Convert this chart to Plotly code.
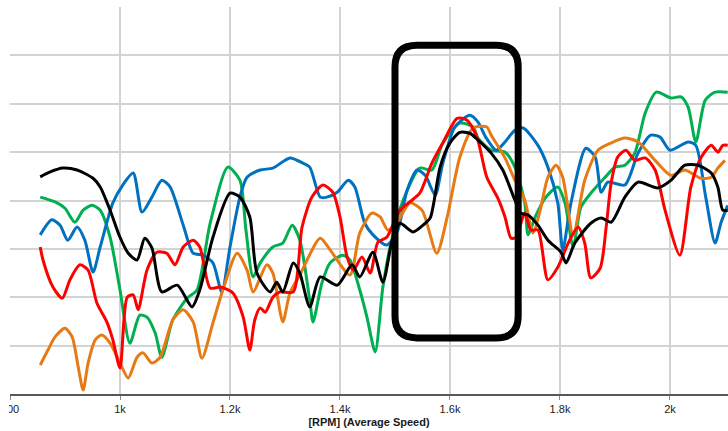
import plotly.graph_objects as go

# ---- data (rpm, relative value on 0..8 grid) ----
black_x = [855, 873, 896, 922, 951, 964, 982, 1000, 1015, 1031, 1045, 1058, 1076, 1104, 1131, 1145, 1169, 1200, 1218, 1236,
           1249, 1273, 1285, 1296, 1315, 1327, 1345, 1364, 1395, 1422, 1436, 1460, 1478, 1495, 1509, 1533, 1551, 1564, 1582,
           1600, 1618, 1636, 1651, 1675, 1696, 1718, 1729, 1742, 1760, 1778, 1802, 1811, 1827, 1856, 1875, 1893, 1918, 1942,
           1978, 2002, 2027, 2051, 2075, 2087, 2096, 2105]
black_y = [4.49, 4.59, 4.67, 4.63, 4.46, 4.28, 3.80, 3.24, 2.91, 2.77, 3.22, 3.02, 2.11, 2.25, 1.80, 2.15, 3.24, 4.15, 4.07, 3.66,
           2.50, 2.11, 2.31, 2.11, 2.71, 2.50, 1.80, 2.42, 2.25, 2.67, 2.42, 2.93, 2.31, 3.18, 3.53, 3.35, 3.49, 3.64, 4.69,
           5.19, 5.41, 5.39, 5.25, 4.98, 4.63, 4.01, 3.74, 3.70, 3.49, 3.18, 2.93, 2.71, 3.12, 3.53, 3.64, 3.55, 4.07, 4.38,
           4.26, 4.42, 4.73, 4.73, 4.57, 4.28, 3.80, 3.80]

blue_x = [855, 876, 891, 905, 922, 936, 951, 964, 987, 1005, 1024, 1040, 1058, 1076, 1091, 1115, 1133, 1151, 1169, 1185,
          1200, 1218, 1231, 1255, 1278, 1309, 1333, 1345, 1364, 1376, 1395, 1415, 1427, 1445, 1460, 1485, 1504, 1522, 1540,
          1555, 1573, 1587, 1609, 1636, 1651, 1665, 1684, 1700, 1718, 1733, 1760, 1778, 1796, 1805, 1820, 1847, 1864, 1875,
          1887, 1918, 1942, 1965, 1982, 2000, 2033, 2047, 2065, 2082, 2093, 2105]
blue_y = [3.29, 3.60, 3.49, 3.18, 3.45, 3.18, 2.52, 3.04, 3.95, 4.32, 4.57, 3.76, 4.07, 4.42, 4.28, 3.49, 2.91, 2.87, 2.71, 2.11,
          3.04, 4.07, 4.48, 4.63, 4.67, 4.88, 4.77, 4.69, 4.07, 4.07, 4.17, 4.42, 4.28, 3.53, 3.29, 3.08, 3.35, 4.21, 4.63,
          4.52, 4.11, 4.77, 5.52, 5.76, 5.62, 5.31, 5.04, 5.21, 5.45, 5.50, 5.14, 4.69, 3.95, 2.98, 3.95, 5.08, 4.90, 4.17,
          4.38, 4.32, 4.98, 5.35, 5.31, 5.04, 5.21, 5.14, 4.07, 3.12, 3.55, 3.90]

green_x = [855, 882, 900, 918, 933, 949, 964, 982, 1000, 1018, 1036, 1049, 1064, 1076, 1096, 1122, 1140, 1164, 1196, 1218,
           1229, 1242, 1255, 1278, 1296, 1313, 1327, 1345, 1351, 1367, 1382, 1405, 1418, 1436, 1449, 1464, 1478, 1495, 1515,
           1545, 1567, 1587, 1618, 1642, 1651, 1675, 1700, 1718, 1736, 1742, 1755, 1773, 1796, 1809, 1824, 1838, 1856, 1882,
           1900, 1918, 1936, 1955, 1975, 2002, 2020, 2033, 2047, 2064, 2082, 2105]
green_y = [4.07, 3.97, 3.84, 3.55, 3.80, 3.90, 3.80, 3.24, 2.15, 1.05, 1.63, 1.59, 1.26, 0.76, 1.53, 1.98, 2.15, 3.53, 4.69, 4.42,
           3.39, 2.42, 2.71, 3.04, 3.12, 3.49, 3.18, 1.94, 1.49, 2.29, 2.71, 2.87, 2.77, 2.15, 1.59, 0.87, 2.21, 3.24, 4.01,
           4.67, 4.63, 5.19, 5.60, 5.52, 5.29, 5.04, 5.00, 4.69, 3.95, 3.29, 3.66, 4.05, 4.28, 3.95, 3.04, 3.86, 4.15, 4.48,
           4.69, 4.73, 4.98, 5.81, 6.24, 6.12, 6.14, 5.93, 5.21, 6.07, 6.24, 6.24]

red_x = [855, 860, 878, 895, 909, 927, 942, 958, 976, 987, 1000, 1013, 1024, 1033, 1049, 1067, 1085, 1100, 1115, 1133,
         1145, 1164, 1182, 1205, 1224, 1236, 1245, 1255, 1264, 1278, 1291, 1315, 1331, 1349, 1369, 1387, 1400, 1413, 1424,
         1440, 1455, 1469, 1485, 1509, 1527, 1545, 1567, 1587, 1613, 1631, 1649, 1667, 1687, 1700, 1711, 1720, 1736, 1747,
         1760, 1778, 1796, 1815, 1833, 1845, 1856, 1873, 1884, 1893, 1905, 1920, 1936, 1955, 1973, 1991, 2018, 2038, 2056,
         2075, 2087, 2096, 2105]
red_y = [3.04, 2.77, 2.21, 1.98, 2.36, 2.67, 2.56, 1.88, 1.49, 1.12, 0.54, 2.00, 2.05, 1.74, 2.56, 2.93, 2.91, 2.67, 3.04, 3.18,
         3.04, 2.19, 2.21, 2.09, 1.59, 0.91, 1.53, 1.78, 1.69, 2.00, 2.11, 2.11, 3.45, 4.07, 4.32, 4.17, 3.66, 2.83, 2.56,
         2.83, 2.50, 3.14, 3.24, 3.80, 3.97, 4.15, 4.77, 5.19, 5.70, 5.66, 5.31, 4.48, 4.05, 3.66, 3.22, 3.24, 3.74, 3.39,
         3.39, 2.36, 2.62, 3.12, 3.45, 3.12, 2.40, 2.60, 3.45, 4.36, 4.90, 5.04, 4.83, 4.88, 4.63, 3.80, 2.87, 4.28, 4.88,
         5.14, 5.00, 5.14, 5.14]

orange_x = [855, 869, 882, 900, 913, 924, 933, 942, 955, 967, 982, 1000, 1015, 1031, 1042, 1058, 1073, 1096, 1115, 1133,
            1149, 1169, 1187, 1213, 1231, 1242, 1267, 1278, 1296, 1309, 1327, 1364, 1382, 1418, 1436, 1458, 1473, 1487, 1504,
            1527, 1549, 1576, 1595, 1618, 1642, 1667, 1675, 1700, 1718, 1736, 1751, 1764, 1778, 1793, 1805, 1824, 1845, 1869,
            1893, 1918, 1942, 1973, 2002, 2027, 2056, 2075, 2087, 2100]
orange_y = [0.60, 0.91, 1.18, 1.36, 1.18, 0.56, 0.08, 0.64, 1.12, 1.22, 1.05, 0.64, 0.33, 0.76, 0.85, 0.64, 0.76, 1.53, 1.74, 1.49,
            0.74, 1.47, 2.15, 2.91, 2.56, 2.11, 2.67, 2.50, 1.49, 2.09, 2.46, 3.22, 2.98, 2.46, 3.33, 3.74, 3.66, 3.39, 3.55,
            3.95, 3.80, 2.91, 3.66, 4.90, 5.50, 5.52, 5.35, 4.88, 4.42, 4.01, 3.33, 3.80, 4.48, 4.73, 4.48, 3.29, 4.42, 5.04,
            5.19, 5.29, 5.21, 4.83, 4.52, 4.63, 4.46, 4.48, 4.67, 4.83]

x_ticks = [800, 1000, 1200, 1400, 1600, 1800, 2000]
x_labels = ["800", "1k", "1.2k", "1.4k", "1.6k", "1.8k", "2k"]
x_title = "[RPM] (Average Speed)"

series = [
    ("green", green_x, green_y, "#00B050"),
    ("blue", blue_x, blue_y, "#0070C0"),
    ("orange", orange_x, orange_y, "#E87A14"),
    ("red", red_x, red_y, "#FF0000"),
    ("black", black_x, black_y, "#000000"),
]

fig = go.Figure()
for name, xs, ys, col in series:
    fig.add_trace(go.Scatter(x=xs, y=ys, mode="lines", name=name,
                             line=dict(color=col, width=3, shape="spline", smoothing=0.7),
                             showlegend=False, hoverinfo="skip"))

# rounded highlight rectangle
x0, x1, y0, y1 = 1500, 1724, 1.16, 7.21
rx, ry = 40, 0.45
path = (f"M {x0+rx},{y1} L {x1-rx},{y1} Q {x1},{y1} {x1},{y1-ry} "
        f"L {x1},{y0+ry} Q {x1},{y0} {x1-rx},{y0} "
        f"L {x0+rx},{y0} Q {x0},{y0} {x0},{y0+ry} "
        f"L {x0},{y1-ry} Q {x0},{y1} {x0+rx},{y1} Z")
fig.add_shape(type="path", path=path, xref="x", yref="y",
              line=dict(color="#000000", width=7), fillcolor="rgba(0,0,0,0)")

# the reference image is cropped just left of the plot edge (first label partly cut)
fig.add_shape(type="rect", xref="paper", yref="paper",
              x0=-0.02, x1=-0.0015, y0=-0.1, y1=-0.004,
              line=dict(width=0), fillcolor="white", layer="above")

font_family = "'Liberation Sans', Arial, sans-serif"
fig.update_layout(
    width=728, height=431,
    margin=dict(l=10, r=0, t=7, b=37),
    paper_bgcolor="white", plot_bgcolor="white",
    font=dict(family=font_family, size=11, color="#1a1a1a"),
    xaxis=dict(range=[800, 2105.5], tickvals=x_ticks, ticktext=x_labels,
               showgrid=True, gridcolor="#D3D3D3", gridwidth=1.5,
               showline=True, linecolor="#595959", linewidth=2,
               ticks="outside", ticklen=4, tickcolor="#8C8C8C",
               tickfont=dict(size=11, color="#1a1a1a"),
               zeroline=False,
               title=dict(text=x_title, standoff=4,
                          font=dict(size=11, color="#1a1a1a", weight="bold"))),
    yaxis=dict(range=[0, 8], dtick=1, showticklabels=False,
               showgrid=True, gridcolor="#D3D3D3", gridwidth=1.5,
               zeroline=False, showline=False),
)
fig.write_html("out.html")
